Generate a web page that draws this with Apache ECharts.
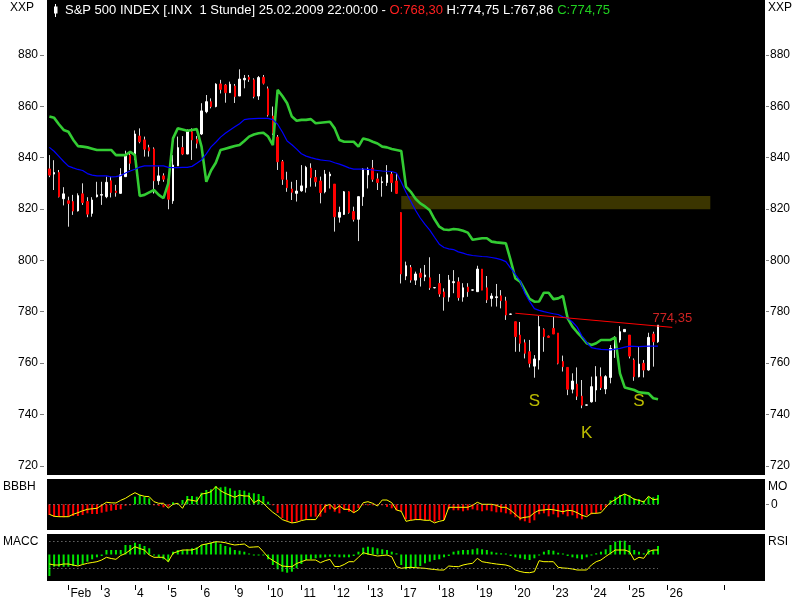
<!DOCTYPE html>
<html><head><meta charset="utf-8">
<script src="https://cdn.jsdelivr.net/npm/echarts@6/dist/echarts.min.js"></script>
<style>html,body{margin:0;padding:0;background:#fff}#c{width:800px;height:600px}</style>
</head><body><div id="c"></div>
<script>
const FONT = "'Liberation Sans Narrow','Arial Narrow','Liberation Sans',Arial,sans-serif";

// ---- x slots (hourly bars) and day labels ----
const slotCount = 151;
const dayStarts = [4,11,18,25,32,39,46,53,60,67,74,82,90,98,106,114,122,130,142];
const dayLabels = ['Feb','3','4','5','6','9','10','11','12','13','17','18','19','20','23','24','25','26',''];

// ---- price axis ticks ----
const priceTicks = [720,740,760,780,800,820,840,860,880];

// ---- candles ----
const opens = [
835.6,833.6,834.2,824.0,823.2,822.9,819.3,825.9,822.9,818.3,
824.8,825.4,824.8,831.0,827.0,826.1,832.6,841.0,840.4,848.4,
846.9,843.9,843.4,831.0,832.9,831.7,823.2,836.8,843.9,841.4,
850.1,847.2,849.2,857.9,861.8,859.9,868.7,868.3,865.3,867.9,
864.0,870.3,871.3,870.3,864.0,871.3,866.8,856.2,848.0,838.4,
831.3,827.8,826.1,827.1,828.3,835.9,832.3,830.9,826.7,832.9,
829.7,816.8,817.9,826.7,819.0,816.0,824.8,833.3,835.9,831.7,
830.3,830.3,833.6,830.9,818.6,793.9,797.2,792.3,795.0,793.6,
793.2,789.3,791.0,787.7,785.7,791.3,791.6,785.7,789.6,788.4,
787.8,796.6,789.3,785.2,785.5,786.2,784.2,779.0,776.1,770.9,
767.9,764.4,758.8,761.2,773.1,770.5,773.5,771.7,760.6,758.3,
749.8,751.8,747.1,743.6,744.9,749.5,754.7,749.9,754.4,765.7,
769.0,772.2,770.9,761.2,754.7,759.9,757.3,771.3,768.30];
const closes = [
833.2,834.2,824.8,825.9,822.2,819.2,825.2,822.5,818.0,823.5,
825.5,825.6,830.4,826.4,826.4,833.3,840.8,837.8,849.2,846.2,
843.3,842.6,831.0,832.9,831.6,823.8,837.1,843.9,841.4,850.4,
846.9,845.6,858.2,861.8,859.9,868.6,866.6,865.3,868.6,863.8,
870.6,870.9,870.5,863.8,871.2,869.0,856.6,849.5,838.4,831.6,
828.3,826.5,827.0,829.0,836.2,832.2,830.6,826.4,833.6,833.6,
817.0,818.7,826.7,818.6,816.0,824.8,835.5,835.5,831.6,830.3,
830.6,833.3,830.3,826.1,794.7,797.9,792.3,794.7,793.4,794.3,
789.3,789.4,786.9,785.7,792.3,791.7,785.5,789.3,787.8,788.5,
796.6,788.4,784.6,786.1,785.8,784.3,778.7,779.1,770.3,767.7,
763.8,759.9,761.6,774.2,770.3,770.0,771.3,759.9,758.6,749.8,
753.0,747.1,743.6,743.7,750.8,754.7,750.4,754.7,765.7,769.2,
772.2,773.1,762.7,754.7,759.6,757.3,770.0,768.3,774.75];
const lows = [
832.4,827.4,824.5,821.4,813.1,817.7,819.0,821.6,816.8,817.0,
824.5,821.6,824.2,824.5,824.8,826.1,832.6,835.2,839.1,845.6,
840.4,840.4,826.0,829.4,830.6,819.9,822.0,836.8,841.0,841.4,
839.1,843.6,848.8,857.3,859.2,859.6,865.0,861.4,865.3,861.3,
864.0,867.0,869.5,863.1,862.5,868.5,856.0,848.8,835.2,829.4,
826.7,823.5,822.9,826.7,826.4,828.7,828.7,822.2,826.1,828.0,
811.2,814.7,817.7,818.2,815.1,807.5,821.2,828.0,830.6,827.4,
824.8,829.0,826.7,825.9,791.0,792.3,791.3,790.4,789.8,791.9,
788.5,789.1,785.8,780.4,783.9,787.2,784.3,783.9,785.8,788.2,
787.8,788.4,783.4,782.0,782.0,781.3,776.8,778.8,764.4,764.4,
761.8,758.3,754.3,757.5,764.4,769.8,771.3,759.5,756.7,747.5,
748.2,745.6,742.4,743.4,744.6,744.9,749.5,747.9,752.1,762.0,
768.0,772.2,761.8,753.1,754.4,754.4,757.0,758.6,767.86];
const highs = [
841.0,839.0,835.2,828.5,824.8,825.5,826.1,830.0,824.6,824.6,
830.6,830.6,832.6,832.6,829.4,835.9,842.7,842.3,850.6,851.4,
848.2,845.0,844.0,836.5,833.9,833.9,841.0,848.2,848.4,851.0,
851.4,848.4,861.2,864.4,863.1,869.0,870.3,868.7,869.6,868.7,
874.4,872.2,872.2,870.9,871.8,872.2,867.7,859.9,848.8,839.1,
834.5,830.6,831.3,837.1,836.8,837.8,835.2,832.6,835.2,834.5,
829.7,820.9,827.0,826.8,820.9,824.8,835.9,836.2,839.1,833.9,
832.6,837.1,834.5,833.9,818.6,799.5,798.2,795.6,796.9,798.2,
801.2,789.6,794.7,789.1,794.3,796.2,793.4,791.1,791.1,788.6,
797.9,796.6,793.9,787.2,790.8,788.4,785.8,779.2,776.1,776.0,
769.2,769.0,763.1,778.3,773.5,770.7,778.0,771.7,762.9,758.3,
756.0,758.3,753.4,743.8,754.7,758.8,758.3,755.3,767.0,770.5,
774.4,773.1,770.9,761.8,766.6,761.2,771.8,772.2,774.75];

// ---- overlay lines on price chart ----
const greenLine = [
856,855.5,853,850.8,850.1,847,844.5,844.3,844,843.5,
843,843,843,843,841,841,841,842.3,841,825.1,
825.5,826.5,827.4,825.5,824.2,830,847.5,851.4,851,850.5,
850.8,851.1,844.3,830.6,835,838,843,843.5,844,844.5,
844.9,846.5,848.2,849,849.5,849.7,848.2,844.9,866.4,864,
861.2,856,854.4,854.7,854.7,855,853.4,853.6,853.8,854,
851.4,846.9,846.2,846.2,846.2,844.3,847.5,847,846.2,845.5,
844.3,844,843.4,843,842.6,828.7,826.7,824,822.2,821,
819.5,816,813.1,812,811.8,812.2,812,811.5,810.8,808,
808.3,808.6,808.6,807.3,807,806.8,806.6,800.1,793,791.7,
788.4,785,783.9,784,787.4,787.4,784.9,785.2,786.1,777.4,
774.2,772,770,767.7,767,767.7,769,769,769,770,
756,750.5,750,749.5,748.6,748.4,748.2,746.3,745.9];
const blueLine = [
844,842.5,840.5,838.5,836.7,836,835.4,835,833.8,833.2,
832.9,832.9,832.9,832.5,832.6,833,834,834.8,835.5,836.3,
836.8,836.8,836.8,836.8,836.8,836.2,836.1,836.1,836.2,836.2,
836.6,837.8,839.1,841.5,844.2,846,848,849.5,850.8,852,
853.2,854.8,855.1,855.2,855.3,855.3,855.3,854.8,853,850,
846.5,845,843.3,841.5,840.6,840,839.5,839.1,838.9,838.7,
838,837.5,836.8,836,835.5,835.5,835.5,835.4,835.2,835,
834.8,834.7,834.6,834,830.5,826.5,823,819.5,816.5,814,
811.8,809,806.3,805,804.5,804.2,803.3,802.8,802.2,801.9,
801.7,801.5,801.4,801.1,800.8,800.3,799.5,797,794.5,792,
787.2,784,781.2,780.5,780,779.6,779.2,778.9,778,777.5,
776,774,770.5,768,766,765.6,765.3,765.2,765.1,765.4,
765.7,766.2,766.6,766.5,766.4,766.5,766.6,766.6,766.6];

// resistance zone and trend line
const zoneSlots = [74, 139];
const zoneValues = [825.1, 819.9];
const trendSlots = [98, 131];
const trendValues = [779.4, 773.9];
const trendLabel = '774,35';
// S-K-S pattern marks
const patternSlots = [102, 113, 124];
const patternValues = [745.2, 732.7, 745.2];
const patternText = ['S', 'K', 'S'];

// ---- BBBH / MO panel ----
const bbbhHist = [
-10.7,-12.4,-12.4,-13,-12.4,-11.7,-11.7,-10.7,-9,-9.7,
-9.7,-8.4,-7.4,-6.4,-5.7,-5,-1.5,-1,7.6,9.3,
7.6,6,-1,-1.5,-3,-2.3,2,1,4.3,8.3,
8.3,7.6,11.6,14.3,15,18.3,17,17.6,16,13.6,
14.3,13.6,11.6,11,10.3,8.3,2.6,-1,-8.7,-13.7,
-16.4,-18.4,-17.4,-15.7,-15,-12.4,-12.4,-12.4,-8.4,-5,
-7.4,-9,-5.7,-7.4,-8.4,-4,-1,-1,-1,-1,
-1,-2.6,-4,-6,-7.4,-15,-15.7,-15.7,-15.7,-15.7,
-15.7,-17.4,-15.7,-15.7,-5,-6,-6,-7,-6,-5,
-6,-7,-6,-7,-8,-8,-9,-10,-13,-16,
-17,-18.6,-16,-10,-9,-12,-10,-13,-10,-12,
-11,-14,-15,-11,-10,-9,-6,-3,4,7.6,
9.3,10.3,9,6,5,3.6,7.6,7,9.3];
const bbbhLine = [
-10,-12,-12.4,-12.4,-12.4,-10,-8.4,-6.5,-5,-4.5,
-4,-1,2,1.5,1.3,4,6,9,11.6,9.3,
8,7.6,2.6,1,1,-3.7,0,1,-4,4.7,
4,3,10.3,11,12.6,17.6,13.6,11,9,7,
9.3,8.3,8.3,1.6,4.3,1,-3.7,-8,-11.3,-15.3,
-17,-18.6,-18,-16.3,-15.3,-15.3,-15.3,-8.4,-1.7,0,
-5,-1.7,-5,-5,-8.4,-5.7,1.6,2.6,1,-1.7,
4.3,4.3,1.6,-5.7,-7,-17,-16,-15.3,-15.3,-16,
-16,-18.6,-17,-16,-3,-3,-3,-3,-3,-1,
2,0,0,0,-1,-3,-3,-6,-10,-14,
-13,-12.4,-8.4,-6,-5.7,-5,-5.5,-6.4,-7.4,-6,
-6.5,-8.4,-11,-12.4,-9,-9,-8.4,-3,2,4.6,
8,10.3,8,5,4,2.3,8,4.6,5.3];

// ---- MACC / RSI panel ----
const macdHist = [
-21.5,-12.2,-12.2,-12.2,-12.2,-11.5,-10.5,-9.8,-7.2,-4.8,
-2.8,-1.5,4.5,4.5,4.5,4.5,9.5,9.5,11.8,10.5,
8.5,6.2,-0.5,-2.8,-4.8,-7.2,2.8,4.5,4.5,5.2,
6.2,7.2,9.5,10.5,11.8,12.8,10.5,8.5,7.2,4.5,
3.8,2.8,0.5,-0.5,-0.5,-0.5,-4.8,-10.5,-14.8,-17.2,
-18.2,-17.2,-13.8,-9.5,-5.5,-4.8,-3.8,-3.2,-2.8,-2.2,
-2.2,-2.8,-2.8,-2.8,-1.5,2.8,6.8,7.8,7.2,6.2,
5.2,4.5,2.8,1.2,-10.5,-14.8,-13.8,-12.8,-11.5,-8.8,
-7.2,-5.5,-4.8,-2.8,-1.5,2.8,3.8,4.5,4.5,5.2,
6.2,5.2,4.5,2.8,1.8,1.2,0.5,-1.5,-2.8,-3.8,
-4.8,-5.5,-3.8,-0.5,2.8,4.5,3.8,1.8,0.5,-1.5,
-2.8,-3.8,-4.8,-2.8,-0.5,1.2,2.8,5.2,9.5,12.8,
13.8,13.8,9.5,4.5,2.8,1.2,5.2,4.5,8.5];
const macdLine = [
-9.5,-10.5,-10.5,-9.5,-9.5,-10.5,-11.5,-10,-8.8,-8,
-7.2,-5.5,-2.8,-4,-4.8,-1,1,4.5,7.8,6,
4.5,-0.5,-2.8,-2.8,-2.8,-7.2,1.2,3,4.5,4.5,
4.5,6,9.5,10.5,11.5,12.8,12.5,11.8,10.5,9.5,
10,10.5,7.2,7.5,7.8,2.8,-2.8,-6,-8.8,-11.5,
-12,-12.2,-9,-7.2,-5.5,-5.5,-5.5,-8.2,-6.2,-4.8,
-12,-12,-10,-7.2,-7.2,-2.8,1.8,0.5,-0.5,-1.5,
-1,-0.5,-2.2,-12,-13.8,-13.2,-12.8,-13.2,-13.5,-13.8,
-14.5,-15,-15.5,-15.5,-11.5,-12,-12.2,-10.5,-9.5,-8.8,
-3.8,-7.2,-8,-8.8,-9.5,-10,-10.5,-12,-15.5,-17,
-18,-18.2,-17.2,-6.2,-7.2,-7.2,-7.2,-12.8,-13.5,-13.8,
-14.5,-15.5,-15.5,-15.5,-10.5,-7.2,-5.5,-2,1.2,4.5,
4.5,4.5,2.8,-5.5,-2.8,-3.8,2.8,4.5,4.5];
const rsiBands = [13.5, -13.8];
const lastSlot = 128;

// ---------------------------------------------------------------
const slots = Array.from({length: slotCount}, (_, i) => String(i));
const fmt = v => v.toFixed(2).replace('.', ',');
const n = closes.length - 1;
const candleData = opens.map((o, i) => [o, closes[i], lows[i], highs[i]]);
const bodyData = opens.map((o, i) => [o, closes[i], Math.min(o, closes[i]), Math.max(o, closes[i])]);

const chart = echarts.init(document.getElementById('c'), null, {renderer: 'canvas'});
const gridBase = {left: 47, right: 35, show: true, backgroundColor: '#000', borderWidth: 0};
const hiddenX = gi => ({type: 'category', gridIndex: gi, data: slots, axisLine: {show: false, onZero: false},
  axisTick: {show: false}, axisLabel: {show: false}, splitLine: {show: false}});
const isDay = idx => dayStarts.indexOf(idx) >= 0;
const CLEAR = 'rgba(0,0,0,0)';

const option = {
  animation: false,
  backgroundColor: '#fff',
  textStyle: {fontFamily: FONT},
  grid: [
    Object.assign({top: 0, height: 475}, gridBase),
    Object.assign({top: 479, height: 51}, gridBase),
    Object.assign({top: 534, height: 47}, gridBase)
  ],
  xAxis: [
    hiddenX(0), hiddenX(1),
    {type: 'category', gridIndex: 2, data: slots, position: 'bottom', offset: 4,
     axisLine: {show: false, onZero: false},
     axisTick: {show: true, length: 5, alignWithLabel: true, interval: isDay, lineStyle: {color: '#000', width: 1}},
     axisLabel: {show: true, interval: isDay, align: 'left', margin: 3, padding: [0, 0, 0, 2],
       color: '#000', fontSize: 12, fontFamily: FONT,
       formatter: (v, idx) => { const k = dayStarts.indexOf(idx); return k >= 0 ? dayLabels[k] : ''; }},
     splitLine: {show: false}}
  ],
  yAxis: [
    {type: 'value', gridIndex: 0, position: 'left', offset: 3, min: 716.4, max: 901.4,
     axisLine: {show: false}, splitLine: {show: false},
     axisTick: {show: true, length: 4, customValues: priceTicks, lineStyle: {color: '#808080'}},
     axisLabel: {show: true, margin: 6, customValues: priceTicks, color: '#000', fontSize: 12, fontFamily: FONT}},
    {type: 'value', gridIndex: 0, position: 'right', offset: 1, min: 716.4, max: 901.4,
     axisLine: {show: false}, splitLine: {show: false},
     axisTick: {show: true, length: 3, customValues: priceTicks, lineStyle: {color: '#808080'}},
     axisLabel: {show: true, margin: 4, customValues: priceTicks, color: '#000', fontSize: 12, fontFamily: FONT}},
    {type: 'value', gridIndex: 1, position: 'right', offset: 1, min: -25.7, max: 25.3,
     axisLine: {show: false}, splitLine: {show: false},
     axisTick: {show: true, length: 3, customValues: [0], lineStyle: {color: '#808080'}},
     axisLabel: {show: true, margin: 5, customValues: [0], color: '#000', fontSize: 12, fontFamily: FONT}},
    {type: 'value', gridIndex: 2, position: 'right', min: -26.5, max: 20.5,
     axisLine: {show: false}, splitLine: {show: false}, axisTick: {show: false}, axisLabel: {show: false}}
  ],
  series: [
    {name: 'wick', type: 'candlestick', xAxisIndex: 0, yAxisIndex: 0, data: candleData, barWidth: 1, z: 2,
     itemStyle: {color: '#d8d8d8', color0: '#d8d8d8', borderColor: '#d8d8d8', borderColor0: '#d8d8d8',
       borderColorDoji: '#d8d8d8', borderWidth: 1},
     markArea: {silent: true, itemStyle: {color: '#3b3500'},
       data: [[{coord: [zoneSlots[0], zoneValues[0]]}, {coord: [zoneSlots[1], zoneValues[1]]}]]}},
    {name: 'body', type: 'candlestick', xAxisIndex: 0, yAxisIndex: 0, data: bodyData, barWidth: 2, z: 3,
     itemStyle: {color: '#ffffff', color0: '#ff0000', borderColor: '#ffffff', borderColor0: '#ff0000',
       borderColorDoji: '#ffffff', borderWidth: 1}},
    {name: 'stop', type: 'line', xAxisIndex: 0, yAxisIndex: 0, data: greenLine, symbol: 'none', z: 4,
     lineStyle: {color: '#33cc33', width: 2.6}},
    {name: 'avg', type: 'line', xAxisIndex: 0, yAxisIndex: 0, data: blueLine, symbol: 'none', z: 4,
     lineStyle: {color: '#0000ff', width: 1.2}},
    {name: 'trend', type: 'line', xAxisIndex: 0, yAxisIndex: 0, symbol: 'none', z: 5,
     lineStyle: {color: '#ff0000', width: 1},
     data: trendSlots.map((s, i) => [s, trendValues[i]])},
    {name: 'trendLabel', type: 'scatter', xAxisIndex: 0, yAxisIndex: 0, symbolSize: 2, z: 6,
     itemStyle: {color: CLEAR},
     data: [[trendSlots[1], trendValues[1]]],
     label: {show: true, position: 'top', distance: 1, formatter: trendLabel,
       color: '#ff2a2a', fontSize: 13, fontFamily: FONT}},
    {name: 'pattern', type: 'scatter', xAxisIndex: 0, yAxisIndex: 0, symbolSize: 2, z: 6,
     itemStyle: {color: CLEAR},
     data: patternSlots.map((s, i) => [s, patternValues[i]]),
     label: {show: true, position: 'inside', formatter: p => patternText[p.dataIndex],
       color: '#eaea00', fontSize: 17, fontFamily: FONT}},
    {name: 'bbbh', type: 'bar', xAxisIndex: 1, yAxisIndex: 2, data: bbbhHist, barWidth: 2,
     itemStyle: {color: p => p.value >= 0 ? '#00e600' : '#ff0000'},
     markLine: {silent: true, symbol: 'none', label: {show: false},
       lineStyle: {color: '#9a9a9a', type: [1, 3], width: 1},
       data: [[{coord: [0, 0]}, {coord: [lastSlot, 0]}]]}},
    {name: 'bbbhLine', type: 'line', xAxisIndex: 1, yAxisIndex: 2, data: bbbhLine, symbol: 'none', z: 4,
     lineStyle: {color: '#ffff00', width: 1}},
    {name: 'macc', type: 'bar', xAxisIndex: 2, yAxisIndex: 3, data: macdHist, barWidth: 2, barMinHeight: 1,
     itemStyle: {color: '#00e600'},
     markLine: {silent: true, symbol: 'none', label: {show: false},
       lineStyle: {color: '#9a9a9a', type: [1, 3], width: 1},
       data: rsiBands.map(b => [{coord: [0, b]}, {coord: [lastSlot, b]}])}},
    {name: 'maccLine', type: 'line', xAxisIndex: 2, yAxisIndex: 3, data: macdLine, symbol: 'none', z: 4,
     lineStyle: {color: '#ffff00', width: 1}}
  ],
  graphic: [
    {type: 'text', left: 10, top: 2, style: {text: 'XXP', fill: '#000', font: '12px ' + FONT}},
    {type: 'text', left: 768, top: 2, style: {text: 'XXP', fill: '#000', font: '12px ' + FONT}},
    {type: 'line', shape: {x1: 55.5, y1: 4, x2: 55.5, y2: 17}, style: {stroke: '#fff', lineWidth: 1}},
    {type: 'rect', shape: {x: 54, y: 6.5, width: 3.5, height: 7}, style: {fill: '#fff'}},
    {type: 'text', x: 65, y: 10,
     style: {text: '{w|S&P 500 INDEX [.INX  1 Stunde] 25.02.2009 22:00:00 - }{r|O:' + fmt(opens[n]) +
       '}{w| H:' + fmt(highs[n]) + ' L:' + fmt(lows[n]) + ' }{g|C:' + fmt(closes[n]) + '}',
       verticalAlign: 'middle', font: '13px ' + FONT,
       rich: {w: {fill: '#fff', font: '13px ' + FONT}, r: {fill: '#ff2020', font: '13px ' + FONT},
              g: {fill: '#20d020', font: '13px ' + FONT}}}},
    {type: 'text', left: 3, top: 481, style: {text: 'BBBH', fill: '#000', font: '12px ' + FONT}},
    {type: 'text', left: 3, top: 536, style: {text: 'MACC', fill: '#000', font: '12px ' + FONT}},
    {type: 'text', left: 768, top: 481, style: {text: 'MO', fill: '#000', font: '12px ' + FONT}},
    {type: 'text', left: 768, top: 536, style: {text: 'RSI', fill: '#000', font: '12px ' + FONT}}
  ]
};
chart.setOption(option);
</script>
</body></html>
